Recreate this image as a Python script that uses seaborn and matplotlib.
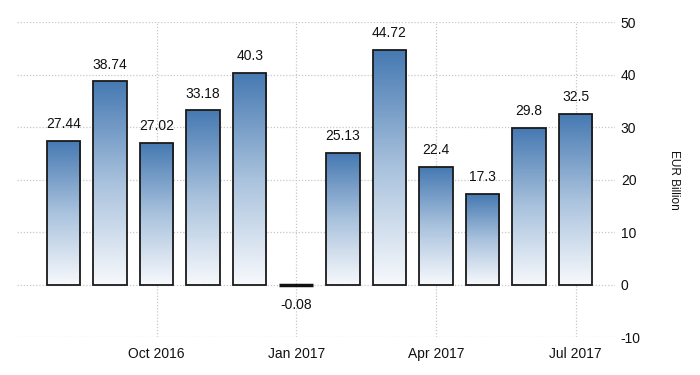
import matplotlib
matplotlib.use("Agg")
import matplotlib.pyplot as plt
import seaborn as sns
import numpy as np
import pandas as pd
from matplotlib.colors import LinearSegmentedColormap

months = ["Aug 2016", "Sep 2016", "Oct 2016", "Nov 2016", "Dec 2016", "Jan 2017",
          "Feb 2017", "Mar 2017", "Apr 2017", "May 2017", "Jun 2017", "Jul 2017"]
values = [27.44, 38.74, 27.02, 33.18, 40.3, -0.08, 25.13, 44.72, 22.4, 17.3, 29.8, 32.5]
value_labels = ["27.44", "38.74", "27.02", "33.18", "40.3", "-0.08", "25.13", "44.72",
                "22.4", "17.3", "29.8", "32.5"]
tick_months = ["Oct 2016", "Jan 2017", "Apr 2017", "Jul 2017"]
y_ticks = [-10, 0, 10, 20, 30, 40, 50]

sns.set_style("white")
plt.rcParams['font.family'] = ['Liberation Sans Narrow', 'Liberation Sans', 'DejaVu Sans']

df = pd.DataFrame({"month": months, "value": values})

fig = plt.figure(figsize=(7, 3.75), dpi=100)
ax = fig.add_axes([0.024, 0.101, 0.855, 0.840])

sns.barplot(data=df, x="month", y="value", order=months, width=0.72,
            color="#4a7fb5", ax=ax, errorbar=None)

xlim = (-1.0, 11.85)
ylim = (-10, 50)

cmap = LinearSegmentedColormap.from_list("g", ["#f7f9fc", "#a9c2dd", "#4679b2"])
grad = np.linspace(0, 1, 256).reshape(-1, 1)

for p in ax.patches:
    x0, y0 = p.get_x(), p.get_y()
    w, h = p.get_width(), p.get_height()
    if abs(h) < 0.5:
        p.set_facecolor("none")
        p.set_edgecolor("#111111")
        p.set_linewidth(2.5)
        continue
    lo, hi = min(y0, y0 + h), max(y0, y0 + h)
    im = ax.imshow(grad, cmap=cmap, origin="lower", aspect="auto",
                   extent=[x0, x0 + w, lo, hi], zorder=2, interpolation="bilinear")
    im.set_clip_path(p)
    p.set_facecolor("none")
    p.set_edgecolor("#1a1a1a")
    p.set_linewidth(1.3)
    p.set_zorder(3)

ax.set_xlim(*xlim)
ax.set_ylim(*ylim)

for i, (v, lab) in enumerate(zip(values, value_labels)):
    if v >= 0:
        ax.annotate(lab, (i, v), xytext=(0, 7), textcoords="offset points",
                    ha="center", va="bottom", fontsize=10, color="#111111")
    else:
        ax.annotate(lab, (i, v), xytext=(0, -9), textcoords="offset points",
                    ha="center", va="top", fontsize=10, color="#111111")

tick_pos = [months.index(m) for m in tick_months]
ax.set_xticks(tick_pos)
ax.set_xticklabels(tick_months, fontsize=10, color="#111111")
ax.set_yticks(y_ticks)
ax.set_yticklabels([str(t) for t in y_ticks], fontsize=10, color="#111111")
ax.yaxis.tick_right()
ax.yaxis.set_label_position("right")
ax.tick_params(axis="both", length=0)
ax.tick_params(axis="x", pad=7)
ax.tick_params(axis="y", pad=4)
ax.set_xlabel("")
ax.set_ylabel("EUR Billion", rotation=270, labelpad=28, fontsize=8.5, color="#111111")

ax.grid(True, axis="both", linestyle=(0, (1, 1.5)), color="#c8c8c8", linewidth=0.9, zorder=0)
ax.set_axisbelow(True)
for s in ax.spines.values():
    s.set_visible(False)

fig.savefig("out.png", dpi=100, facecolor="white")
